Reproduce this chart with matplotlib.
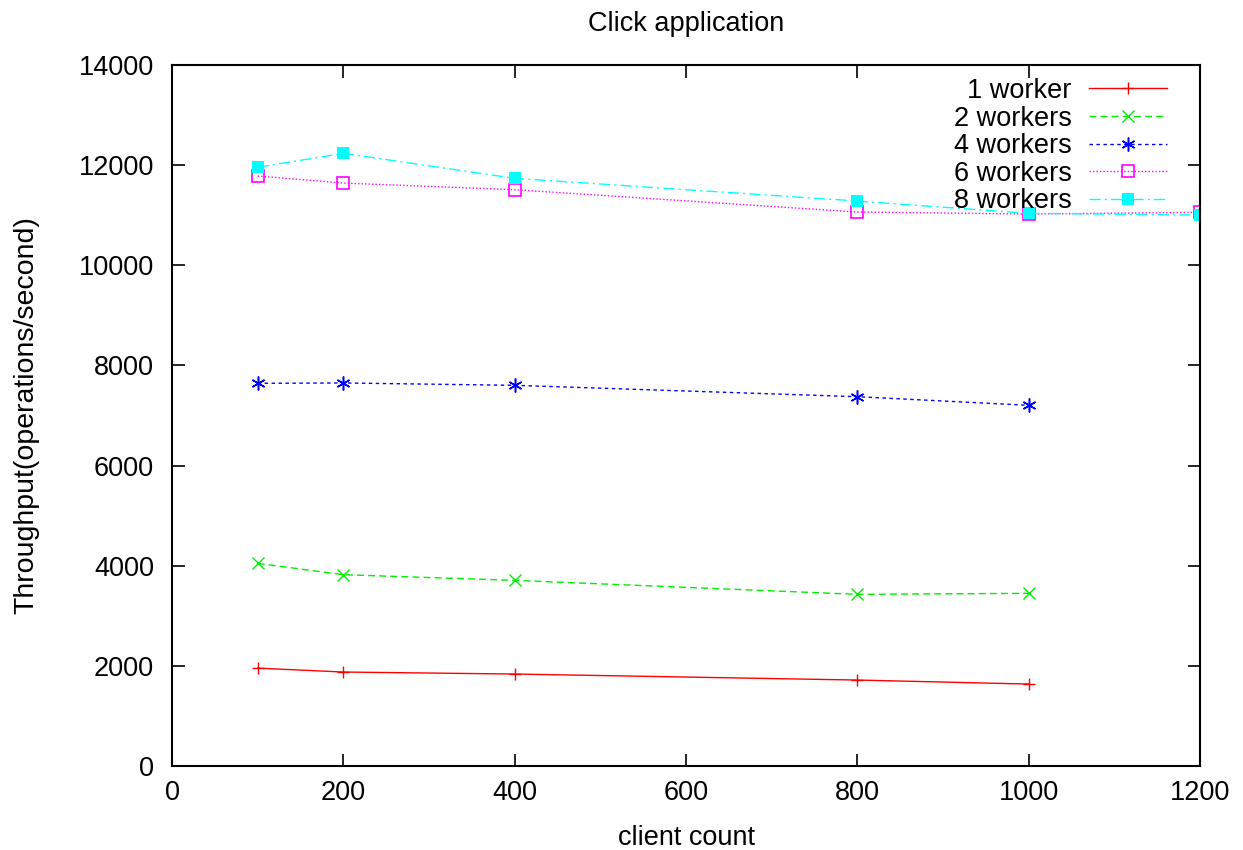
import matplotlib
matplotlib.use("Agg")
from matplotlib import pyplot as plt

plt.rcParams['font.family'] = ['Liberation Sans', 'DejaVu Sans']

# client counts
clients = [100, 200, 400, 800, 1000]
clients_long = [100, 200, 400, 800, 1000, 1200]

# throughput per worker count
w1 = [1955, 1877, 1837, 1717, 1637]
w2 = [4048, 3821, 3708, 3429, 3449]
w4 = [7643, 7650, 7603, 7376, 7204]
w6 = [11783, 11643, 11510, 11064, 11024, 11058]
w8 = [11957, 12237, 11737, 11284, 11038, 11004]

fs = 19.5

fig = plt.figure(figsize=(12.43, 8.5), dpi=100)
ax = fig.add_axes([0.1384, 0.0988, 0.8270, 0.8247])

lw = 1.0
ax.plot(clients, w1, color='#ff0000', lw=lw, ls='-', marker='+', ms=8.5,
        mew=1.0, label='1 worker')
ax.plot(clients, w2, color='#00ee00', lw=lw, ls=(0, (5, 3)), marker='x',
        ms=8, mew=1.0, label='2 workers')
ax.plot(clients, w4, color='#0000ff', lw=lw, ls=(0, (2.5, 2.5)),
        marker=(6, 2, 0), ms=10, mew=1.1, label='4 workers')
ax.plot(clients_long, w6, color='#ff00ff', lw=lw, ls=(0, (1, 1.5)),
        marker='s', ms=8, mfc='none', mew=1.2, label='6 workers')
ax.plot(clients_long, w8, color='#00ffff', lw=lw, ls=(0, (8, 3, 1.5, 3)),
        marker='s', ms=8.5, mew=0, label='8 workers')

ax.set_xlim(0, 1200)
ax.set_ylim(0, 14000)
ax.set_xticks(range(0, 1201, 200))
ax.set_yticks(range(0, 14001, 2000))
ax.tick_params(direction='in', length=9, width=1.2, top=True, right=True,
               labelsize=fs)
ax.tick_params(axis='y', pad=13)
ax.tick_params(axis='x', pad=10)
for s in ax.spines.values():
    s.set_linewidth(1.5)

ax.set_title('Click application', fontsize=fs, pad=24.5)
ax.set_xlabel('client count', fontsize=fs, labelpad=14)
ax.set_ylabel('Throughput(operations/second)', fontsize=20.5, labelpad=28)

ax.legend(loc='upper right', bbox_to_anchor=(0.9786, 0.997), frameon=False,
          markerfirst=False, fontsize=fs, handlelength=2.9,
          handletextpad=0.63, labelspacing=0.06, borderaxespad=0.2,
          borderpad=0.2)

fig.savefig('out.png', dpi=100)
